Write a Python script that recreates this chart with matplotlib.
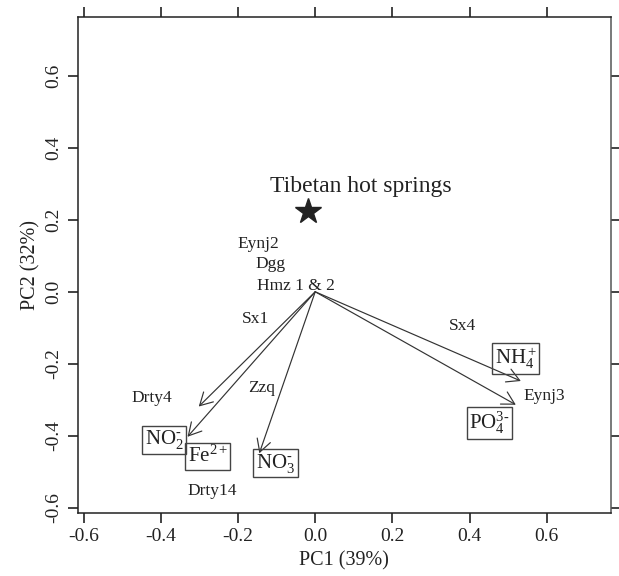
import matplotlib
matplotlib.use("Agg")
import matplotlib.pyplot as plt

plt.rcParams["font.family"] = ["Liberation Serif", "DejaVu Serif"]
plt.rcParams["mathtext.fontset"] = "custom"
plt.rcParams["mathtext.rm"] = "Liberation Serif"
plt.rcParams["mathtext.it"] = "Liberation Serif:italic"
plt.rcParams["mathtext.bf"] = "Liberation Serif:bold"
plt.rcParams["axes.unicode_minus"] = False

# sample scores (label positions)
sample_names = ["Eynj2", "Dgg", "Hmz 1 & 2", "Sx1", "Drty4", "Zzq", "Drty14", "Sx4", "Eynj3"]
sample_x = [-0.147, -0.116, -0.051, -0.155, -0.423, -0.138, -0.268, 0.383, 0.593]
sample_y = [0.133, 0.078, 0.016, -0.075, -0.295, -0.268, -0.553, -0.095, -0.289]

# variable loadings (arrow tips) and their boxed labels
var_names = [r"NO$_2^{\text{-}}$", r"Fe$^{2+}$", r"NO$_3^{\text{-}}$", r"NH$_4^+$",
             r"PO$_4^{3\text{-}}$"]
var_x = [-0.331, -0.302, -0.145, 0.533, 0.520]
var_y = [-0.403, -0.319, -0.449, -0.248, -0.314]
var_lab_x = [-0.392, -0.278, -0.103, 0.520, 0.452]
var_lab_y = [-0.411, -0.458, -0.477, -0.185, -0.365]

# Tibetan hot springs centroid
star_x, star_y = -0.019, 0.224
star_label = "Tibetan hot springs"

ticks = [-0.6, -0.4, -0.2, 0.0, 0.2, 0.4, 0.6]
tick_labels = ["-0.6", "-0.4", "-0.2", "0.0", "0.2", "0.4", "0.6"]

fig = plt.figure(figsize=(6.19, 5.76), dpi=100)
ax = fig.add_axes([0.126, 0.109, 0.8606, 0.861])
ax.set_xlim(-0.615, 0.766)
ax.set_ylim(-0.6155, 0.763)

ink = "#222222"

for xt, yt in zip(var_x, var_y):
    ax.annotate("", xy=(xt, yt), xytext=(0, 0),
                arrowprops=dict(arrowstyle="->,head_length=0.45,head_width=0.25",
                                color="#333333", lw=0.85, shrinkA=0, shrinkB=0,
                                mutation_scale=20))

for name, lx, ly in zip(var_names, var_lab_x, var_lab_y):
    ax.text(lx, ly, name, fontsize=15, color=ink, ha="center", va="center",
            bbox=dict(boxstyle="square,pad=0.12", fc="none", ec="#444444", lw=1.0))

for name, sx, sy in zip(sample_names, sample_x, sample_y):
    ax.text(sx, sy, name, fontsize=12.5, color=ink, ha="center", va="center")

ax.plot([star_x], [star_y], marker="*", ms=19, color=ink, linestyle="none")
ax.text(0.117, 0.292, star_label, fontsize=17, color=ink, ha="center", va="center")

ax.set_xticks(ticks)
ax.set_xticklabels(tick_labels)
ax.set_yticks(ticks)
ax.set_yticklabels(tick_labels, rotation=90, va="center")
ax.tick_params(axis="both", which="both", direction="out", length=7.5, width=1.2,
               colors=ink, labelsize=14, pad=3.5, top=True, right=True)
ax.tick_params(axis="x", labeltop=False)
ax.tick_params(axis="y", labelright=False)

for side in ["left", "bottom", "top"]:
    ax.spines[side].set_color(ink)
    ax.spines[side].set_linewidth(1.1)
ax.spines["right"].set_color("#555555")
ax.spines["right"].set_linewidth(1.1)

ax.set_xlabel("PC1 (39%)", fontsize=14.5, color=ink, labelpad=4)
ax.set_ylabel("PC2 (32%)", fontsize=14.5, color=ink, labelpad=4)

fig.savefig("out.png", dpi=100)
